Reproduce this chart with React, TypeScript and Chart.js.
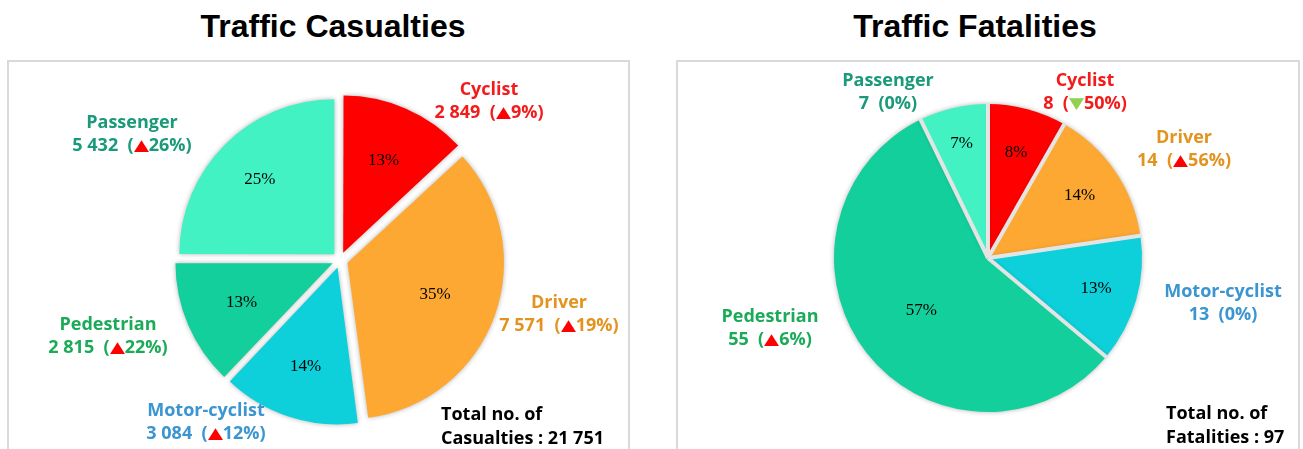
import React, { useEffect, useRef } from 'react';
import { Chart, registerables } from 'chart.js';
Chart.register(...registerables);

// ---------- data ----------
const categories = ['Cyclist', 'Driver', 'Motor-cyclist', 'Pedestrian', 'Passenger'];
const casualties = [2849, 7571, 3084, 2815, 5432];
const casualtyChange = [9, 19, 12, 22, 26];
const casualtyDir = ['up', 'up', 'up', 'up', 'up'];
const fatalities = [8, 14, 13, 55, 7];
const fatalityChange = [50, 56, 0, 6, 0];
const fatalityDir = ['down', 'up', 'none', 'up', 'none'];
const titles = ['Traffic Casualties', 'Traffic Fatalities'];
const totalLabels = ['Casualties', 'Fatalities'];

// ---------- styles ----------
const sliceColors = ['#ff0000', '#fca833', '#0dd0da', '#13cf9b', '#42f2c3'];
const labelColors = ['#f31b1b', '#e3931f', '#3a95d0', '#1bab58', '#1a9a7a'];
const LABEL_FONT = '"Open Sans", "DejaVu Sans", sans-serif';

// callout positions: [centerX, topY]
const casualtyLabelPos = [[489, 77], [559, 290], [206, 398], [108, 312], [132, 110]];
const fatalityLabelPos = [[1085, 68], [1184, 125], [1223, 279], [770, 304], [888, 68]];
const casualtyTotalPos = [441, 401];
const fatalityTotalPos = [1166, 400];

const fmt = (n: number) => n.toString().replace(/\B(?=(\d{3})+(?!\d))/g, ' ');

const pieLabelPlugin = {
  id: 'pieLabels',
  beforeDatasetsDraw(chart: any) {
    const ctx = chart.ctx;
    ctx.save();
    ctx.shadowColor = 'rgba(0,0,0,0.30)';
    ctx.shadowBlur = 5;
    ctx.shadowOffsetX = 0;
    ctx.shadowOffsetY = 0;
  },
  afterDatasetsDraw(chart: any, _args: any, opts: any) {
    const ctx = chart.ctx;
    ctx.restore();
    const meta = chart.getDatasetMeta(0);
    const data = chart.data.datasets[0].data as number[];
    const total = data.reduce((a, b) => a + b, 0);
    if (opts.separators) {
      ctx.save();
      ctx.strokeStyle = '#e4e4e4';
      ctx.lineWidth = opts.separators;
      ctx.lineCap = 'butt';
      meta.data.forEach((arc: any) => {
        const p = arc.getProps(['x', 'y', 'startAngle', 'outerRadius']);
        ctx.beginPath();
        ctx.moveTo(p.x, p.y);
        ctx.lineTo(p.x + Math.cos(p.startAngle) * (p.outerRadius + 1), p.y + Math.sin(p.startAngle) * (p.outerRadius + 1));
        ctx.stroke();
      });
      ctx.restore();
    }
    ctx.save();
    ctx.fillStyle = '#000';
    ctx.font = '17px "Liberation Serif", "Times New Roman", serif';
    ctx.textAlign = 'center';
    ctx.textBaseline = 'middle';
    meta.data.forEach((arc: any, i: number) => {
      const p = arc.getProps(['x', 'y', 'startAngle', 'endAngle', 'outerRadius']);
      const mid = (p.startAngle + p.endAngle) / 2;
      const off = (arc.options.offset || 0) / 4;
      const r = off + p.outerRadius * opts.fractions[i];
      const pct = Math.round((data[i] / total) * 100) + '%';
      ctx.fillText(pct, p.x + Math.cos(mid) * r, p.y + Math.sin(mid) * r);
    });
    ctx.restore();
  },
};

function PieCanvas(props: {
  values: number[];
  left: number;
  width: number;
  padding: { left: number; right: number; top: number; bottom: number };
  radius: number;
  offset: number;
  separators: number;
  fractions: number[];
}) {
  const ref = useRef<HTMLCanvasElement>(null);
  useEffect(() => {
    if (!ref.current) return;
    const chart = new Chart(ref.current, {
      type: 'pie',
      data: {
        labels: categories,
        datasets: [
          {
            data: props.values,
            backgroundColor: sliceColors,
            borderWidth: 0,
            offset: props.offset,
          } as any,
        ],
      },
      options: {
        responsive: false,
        animation: false,
        devicePixelRatio: 1,
        radius: props.radius,
        layout: { padding: props.padding },
        plugins: {
          legend: { display: false },
          tooltip: { enabled: false },
          title: { display: false },
          pieLabels: { fractions: props.fractions, separators: props.separators },
        } as any,
      },
      plugins: [pieLabelPlugin as any],
    });
    return () => chart.destroy();
  }, []);
  return (
    <canvas
      ref={ref}
      width={props.width}
      height={449}
      style={{ position: 'absolute', left: props.left, top: 0, width: props.width, height: 449 }}
    />
  );
}

function Arrow({ dir }: { dir: string }) {
  if (dir === 'none') return null;
  return (
    <span
      style={{
        display: 'inline-block',
        color: dir === 'up' ? '#ff0000' : '#92d050',
        fontFamily: '"DejaVu Sans", sans-serif',
        fontSize: 17,
        lineHeight: '20px',
        transform: 'scale(1.15, 0.9)',
        margin: '0 1px',
      }}
    >
      {dir === 'up' ? '▲' : '▼'}
    </span>
  );
}

function Callouts({ values, changes, dirs, pos }: { values: number[]; changes: number[]; dirs: string[]; pos: number[][] }) {
  return (
    <>
      {categories.map((c, i) => (
        <div
          key={c}
          style={{
            position: 'absolute',
            left: pos[i][0] - 120,
            top: pos[i][1],
            width: 240,
            textAlign: 'center',
            fontFamily: LABEL_FONT,
            fontWeight: 700,
            fontSize: 18,
            lineHeight: '23px',
            color: labelColors[i],
            whiteSpace: 'pre',
          }}
        >
          <div>{c}</div>
          <div>
            {fmt(values[i]) + '  ('}
            <Arrow dir={dirs[i]} />
            {changes[i] + '%)'}
          </div>
        </div>
      ))}
    </>
  );
}

function Total({ label, values, pos }: { label: string; values: number[]; pos: number[] }) {
  const total = values.reduce((a, b) => a + b, 0);
  return (
    <div
      style={{
        position: 'absolute',
        left: pos[0],
        top: pos[1],
        fontFamily: LABEL_FONT,
        fontWeight: 700,
        fontSize: 18,
        lineHeight: '24px',
        color: '#000',
        whiteSpace: 'pre',
      }}
    >
      <div>Total no. of</div>
      <div>{label + ' : ' + fmt(total)}</div>
    </div>
  );
}

export default function App() {
  const titleStyle: React.CSSProperties = {
    position: 'absolute',
    top: 10,
    width: 500,
    textAlign: 'center',
    fontFamily: '"Liberation Sans", Arial, sans-serif',
    fontWeight: 700,
    fontSize: 32,
    lineHeight: '32px',
    color: '#000',
  };
  const boxStyle: React.CSSProperties = {
    position: 'absolute',
    top: 60,
    height: 440,
    boxSizing: 'border-box',
    border: '2px solid #d9d9d9',
    background: '#fff',
  };
  return (
    <div style={{ position: 'fixed', left: 0, top: 0, width: 1303, height: 449, overflow: 'hidden', background: '#fff' }}>
      <div style={{ ...titleStyle, left: 333 - 250 }}>{titles[0]}</div>
      <div style={{ ...titleStyle, left: 975 - 250 }}>{titles[1]}</div>
      <div style={{ ...boxStyle, left: 7, width: 623 }} />
      <div style={{ ...boxStyle, left: 676, width: 624 }} />
      <PieCanvas
        values={casualties}
        left={0}
        width={650}
        padding={{ left: 170, right: 140, top: 90, bottom: 19 }}
        radius={155}
        offset={32}
        separators={0}
        fractions={[0.65, 0.6, 0.67, 0.64, 0.68]}
      />
      <PieCanvas
        values={fatalities}
        left={650}
        width={653}
        padding={{ left: 168, right: 145, top: 88, bottom: 21 }}
        radius={154}
        offset={0}
        separators={4}
        fractions={[0.71, 0.72, 0.73, 0.55, 0.76]}
      />
      <Callouts values={casualties} changes={casualtyChange} dirs={casualtyDir} pos={casualtyLabelPos} />
      <Callouts values={fatalities} changes={fatalityChange} dirs={fatalityDir} pos={fatalityLabelPos} />
      <Total label={totalLabels[0]} values={casualties} pos={casualtyTotalPos} />
      <Total label={totalLabels[1]} values={fatalities} pos={fatalityTotalPos} />
    </div>
  );
}
